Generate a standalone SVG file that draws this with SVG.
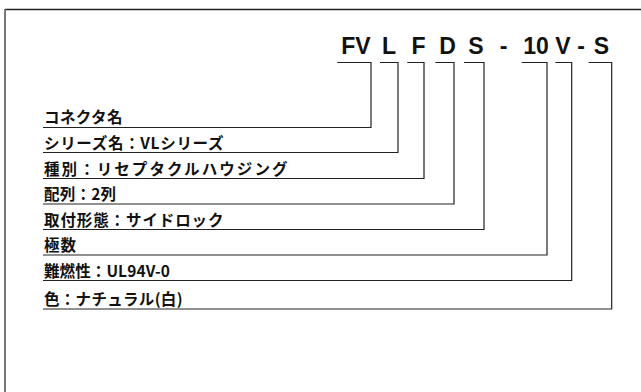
<svg xmlns="http://www.w3.org/2000/svg" width="641" height="392" viewBox="0 0 641 392">
<style>
.code{font-family:"Liberation Sans",Arial,sans-serif;font-weight:bold;font-size:23px;fill:#111;text-anchor:middle}
.lbl{font-family:"Noto Sans CJK JP","Noto Sans",sans-serif;font-weight:bold;font-size:15.5px;fill:#111}
.con{fill:none;stroke:#222;stroke-width:1.2}
</style>
<rect width="641" height="392" fill="#fff"/>
<g id="frame">
<line x1="5" y1="9.5" x2="641" y2="9.5" stroke="#222" stroke-width="1.5"/>
<line x1="5" y1="9" x2="5" y2="392" stroke="#777" stroke-width="2"/>
</g>
<g id="code">
<text class="code" x="356" y="54">FV</text>
<text class="code" x="389" y="54">L</text>
<text class="code" x="418.5" y="54">F</text>
<text class="code" x="447.5" y="54">D</text>
<text class="code" x="476" y="54">S</text>
<text class="code" x="503.5" y="54">-</text>
<text class="code" x="536" y="54">10</text>
<text class="code" x="563" y="54">V</text>
<text class="code" x="581" y="54">-</text>
<text class="code" x="601.5" y="54">S</text>
</g>
<g id="connectors">
<path class="con" d="M337.3 62.5H371V127.5H43"/>
<path class="con" d="M380 62.5H398V152.5H43"/>
<path class="con" d="M407.3 62.5H424V178.5H43"/>
<path class="con" d="M435.3 62.5H454V204H43"/>
<path class="con" d="M464 62.5H484V229.5H43"/>
<path class="con" d="M521.7 62.5H547V255H43"/>
<path class="con" d="M555.3 62.5H571.7V280.5H43"/>
<path class="con" d="M588.7 62.5H611.7V309H43"/>
</g>
<g id="label-connector-name"><text class="lbl" x="44" y="123" textLength="78.5" lengthAdjust="spacing">コネクタ名</text></g>
<g id="label-series"><text class="lbl" x="44" y="148.5" textLength="179.5" lengthAdjust="spacing">シリーズ名：VLシリーズ</text></g>
<g id="label-type"><text class="lbl" x="44" y="174.5" textLength="243.5" lengthAdjust="spacing">種別：リセプタクルハウジング</text></g>
<g id="label-rows"><text class="lbl" x="44" y="200" textLength="72" lengthAdjust="spacing">配列：2列</text></g>
<g id="label-mount"><text class="lbl" x="44" y="225.5" textLength="179.5" lengthAdjust="spacing">取付形態：サイドロック</text></g>
<g id="label-poles"><text class="lbl" x="44" y="251" textLength="32" lengthAdjust="spacing">極数</text></g>
<g id="label-flame"><text class="lbl" x="44" y="276.5" textLength="126" lengthAdjust="spacing">難燃性：UL94V-0</text></g>
<g id="label-color"><text class="lbl" x="44" y="305" textLength="138.5" lengthAdjust="spacing">色：ナチュラル(白)</text></g>
</svg>
